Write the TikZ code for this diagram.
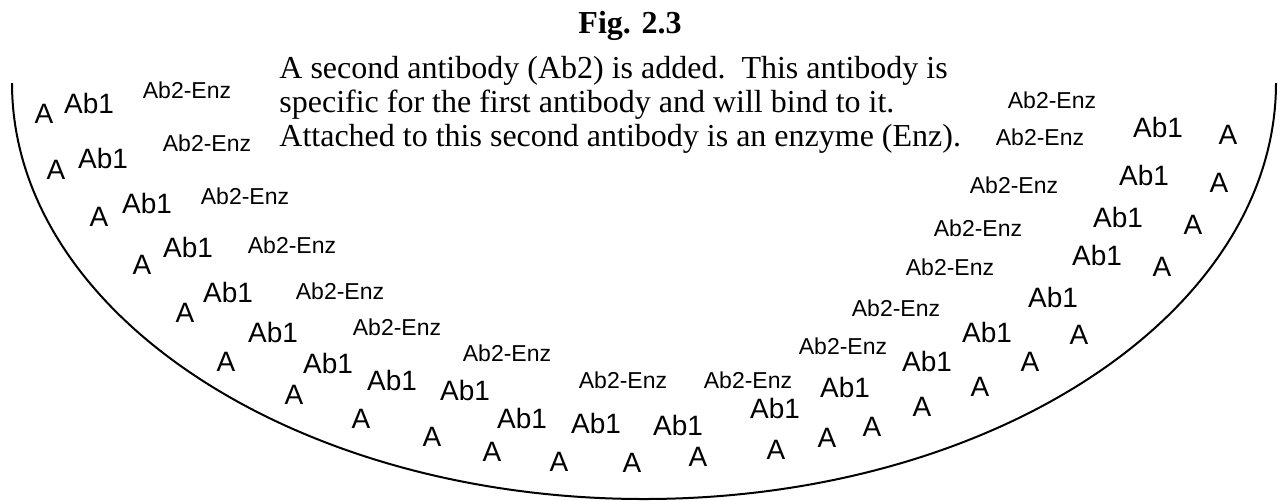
\documentclass[tikz,border=0pt]{standalone}
\usepackage{fontspec}
\setmainfont{Liberation Serif}
\newfontfamily\labelfont{Liberation Sans}
\usepackage{tikz}
\tikzstyle{antigen} = [font=\labelfont\fontsize{14}{14}\selectfont, inner sep=0pt]
\tikzstyle{antibody} = [font=\labelfont\fontsize{14}{14}\selectfont, inner sep=0pt]
\tikzstyle{enzyme} = [font=\labelfont\fontsize{11.5}{11.5}\selectfont, inner sep=0pt]
\tikzstyle{caption} = [font=\fontsize{16}{17}\selectfont, align=left, inner sep=0pt]
\tikzstyle{bowl} = [draw, line width=1pt]

\begin{document}
\begin{tikzpicture}[x=0.5pt, y=-0.5pt]
			\useasboundingbox (0,0) rectangle (1280,500);
			\node [font=\bfseries\fontsize{16}{16}\selectfont, anchor=base] (title) at (630,33) {Fig. 2.3};
			\node [caption, anchor=north west] (text) at (279,56)
			{A second antibody (Ab2) is added.\ \ This antibody is\\
			specific for the first antibody and will bind to it.\\
			Attached to this second antibody is an enzyme (Enz).};
			% the well
			\path [bowl] (12,83) arc [start angle=180, end angle=0, x radius=632, y radius=416];
			% antigen A on the well surface
			\foreach \x/\y [count=\i] in {44/114, 56/170, 99/217, 142/265, 185/313, 226/362, 294/395,
				361/419, 432/437, 492/452, 559/462, 632/463, 698/457, 776/450, 827/438, 872/427,
				922/407, 980/387, 1030/362, 1079/335, 1162/267, 1193/225, 1219/183, 1228/135}
				\node [antigen] (a\i) at (\x,\y) {A};
			% first antibody Ab1
			\foreach \x/\y [count=\i] in {89/103, 103/158, 147/203, 188/247, 228/292, 273/332, 328/363,
				392/380, 465/390, 522/418, 596/423, 678/425, 775/408, 845/387, 927/361, 987/332,
				1053/297, 1097/255, 1118/217, 1144/175, 1158/127}
				\node [antibody] (ab\i) at (\x,\y) {Ab1};
			% second antibody with enzyme
			\foreach \x/\y [count=\i] in {187/90, 207/143, 245/196, 292/245, 340/291, 397/327, 507/353,
				623/380, 748/380, 843/346, 896/308, 950/267, 978/228, 1014/185, 1040/137, 1052/100}
				\node [enzyme] (enz\i) at (\x,\y) {Ab2-Enz};
		\end{tikzpicture}
\end{document}
